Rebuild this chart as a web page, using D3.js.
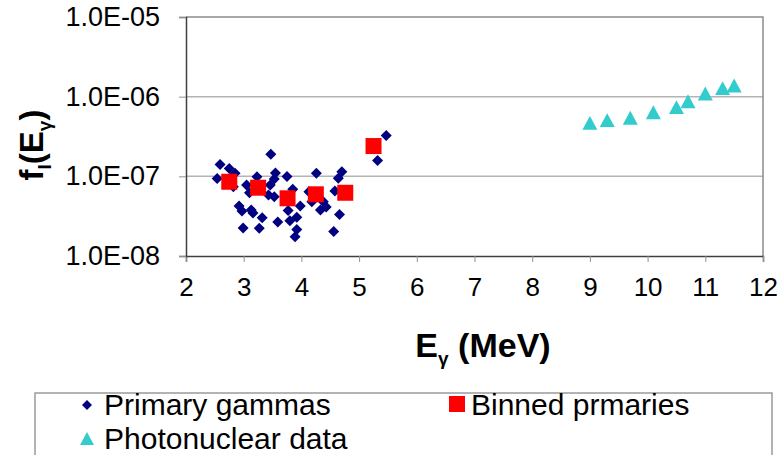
<!DOCTYPE html>
<html>
<head>
<meta charset="utf-8">
<script src="https://cdn.jsdelivr.net/npm/d3@7"></script>
<style>
  html, body { margin: 0; padding: 0; background: #fff; }
  svg { display: block; font-family: "Liberation Sans", Arial, sans-serif; }
</style>
</head>
<body>
<svg id="chart" width="781" height="455"></svg>
<script>
// Primary gamma strengths: [E (MeV), f(E)]
const primaryE = [2.59, 2.54, 2.75, 2.85, 2.82, 2.92, 2.97, 2.99, 3.13, 3.16, 3.05, 3.10, 3.23, 3.27, 3.32,
                  3.47, 3.55, 3.53, 3.46, 3.43, 3.53, 3.59, 3.75, 3.77, 3.85, 3.80, 3.92, 3.92, 3.89, 3.98,
                  4.26, 4.13, 4.18, 4.38, 4.43, 4.33, 4.58, 4.66, 4.56, 4.70, 4.64, 5.32, 5.47];
const primaryF = [1.41e-7, 9.4e-8, 1.25e-7, 1.09e-7, 7.4e-8, 4.24e-8, 3.67e-8, 2.25e-8, 3.78e-8, 3.46e-8, 7.78e-8, 6.22e-8, 9.9e-8, 2.23e-8, 3.03e-8,
                  1.90e-7, 1.10e-7, 9.25e-8, 7.78e-8, 5.83e-8, 5.55e-8, 2.67e-8, 9.95e-8, 3.72e-8, 6.87e-8, 2.77e-8, 3.06e-8, 2.15e-8, 1.75e-8, 4.24e-8,
                  1.09e-7, 6.41e-8, 4.80e-8, 4.80e-8, 4.12e-8, 3.78e-8, 6.54e-8, 3.32e-8, 2.03e-8, 1.14e-7, 9.44e-8, 1.58e-7, 3.25e-7];

// Binned primaries
const binnedE = [2.75, 3.25, 3.76, 4.25, 4.76, 5.25];
const binnedF = [8.55e-8, 7.2e-8, 5.3e-8, 5.95e-8, 6.22e-8, 2.40e-7];

// Photonuclear data
const photoE = [9.0, 9.3, 9.7, 10.1, 10.5, 10.7, 11.0, 11.3, 11.5];
const photoF = [4.62e-7, 4.99e-7, 5.34e-7, 6.28e-7, 7.26e-7, 8.63e-7, 1.08e-6, 1.26e-6, 1.36e-6];

// Axis ticks
const xTicks = [2, 3, 4, 5, 6, 7, 8, 9, 10, 11, 12];
const yTicks = [1e-8, 1e-7, 1e-6, 1e-5];
const yTickLabels = ["1.0E-08", "1.0E-07", "1.0E-06", "1.0E-05"];

const svg = d3.select("#chart");
const plot = { left: 186, right: 763, top: 17, bottom: 256 };

const x = d3.scaleLinear().domain([2, 12]).range([plot.left, plot.right]);
const y = d3.scaleLog().domain([1e-8, 1e-5]).range([plot.bottom, plot.top]);

// gridlines at interior decades
svg.append("g").selectAll("line")
  .data(yTicks.slice(1, -1))
  .join("line")
  .attr("x1", plot.left).attr("x2", plot.right)
  .attr("y1", d => y(d)).attr("y2", d => y(d))
  .attr("stroke", "#b4b4b4").attr("stroke-width", 1.5);

// plot frame (top & right)
svg.append("path")
  .attr("d", `M${plot.left},${plot.top}H${plot.right}V${plot.bottom}`)
  .attr("fill", "none").attr("stroke", "#8c8c8c").attr("stroke-width", 1.5);

// x axis
const xAxis = svg.append("g")
  .attr("transform", `translate(0,${plot.bottom})`)
  .call(d3.axisBottom(x).tickValues(xTicks).tickSize(6).tickPadding(16).tickFormat(d3.format("d")));
xAxis.select(".domain").attr("stroke", "#404040").attr("stroke-width", 1.5);
xAxis.selectAll(".tick line").attr("stroke", "#909090");
xAxis.selectAll(".tick text").attr("font-size", 26).attr("fill", "#000")
  .attr("font-family", "Liberation Sans, Arial, sans-serif");

// y axis
const yAxis = svg.append("g")
  .attr("transform", `translate(${plot.left},0)`)
  .call(d3.axisLeft(y).tickValues(yTicks).tickSize(7).tickPadding(19)
    .tickFormat((d, i) => yTickLabels[i]));
yAxis.select(".domain").attr("stroke", "#404040").attr("stroke-width", 1.5);
yAxis.selectAll(".tick line").attr("stroke", "#909090");
yAxis.selectAll(".tick text").attr("font-size", 27).attr("fill", "#000")
  .attr("font-family", "Liberation Sans, Arial, sans-serif");

// axis titles
const xTitle = svg.append("text")
  .attr("x", 483).attr("y", 357)
  .attr("text-anchor", "middle")
  .attr("font-size", 34).attr("font-weight", "bold");
xTitle.append("tspan").text("E");
xTitle.append("tspan").attr("font-size", 19).attr("dy", 8).text("γ");
xTitle.append("tspan").attr("dy", -8).text(" (MeV)");

const yTitle = svg.append("text")
  .attr("transform", "translate(43,145) rotate(-90)")
  .attr("text-anchor", "middle")
  .attr("font-size", 33).attr("font-weight", "bold");
yTitle.append("tspan").text("f");
yTitle.append("tspan").attr("font-size", 19).attr("dy", 8).text("l");
yTitle.append("tspan").attr("dy", -8).text("(E");
yTitle.append("tspan").attr("font-size", 19).attr("dy", 8).text("γ");
yTitle.append("tspan").attr("dy", -8).text(")");

// marker shapes
const diamond = s => `M0,${-s}L${s},0L0,${s}L${-s},0Z`;
const square = s => `M${-s},${-s}H${s}V${s}H${-s}Z`;
const triangle = s => `M0,${-s}L${s},${s * 0.85}H${-s}Z`;

const navy = "#000080", red = "#ff0000", cyan = "#33cccc";

svg.append("g").selectAll("path")
  .data(d3.zip(primaryE, primaryF))
  .join("path")
  .attr("transform", d => `translate(${x(d[0])},${y(d[1])})`)
  .attr("d", diamond(5.5)).attr("fill", navy);

svg.append("g").selectAll("path")
  .data(d3.zip(binnedE, binnedF))
  .join("path")
  .attr("transform", d => `translate(${x(d[0])},${y(d[1])})`)
  .attr("d", square(8)).attr("fill", red);

svg.append("g").selectAll("path")
  .data(d3.zip(photoE, photoF))
  .join("path")
  .attr("transform", d => `translate(${x(d[0])},${y(d[1])})`)
  .attr("d", triangle(7.5)).attr("fill", cyan);

// legend
const legend = svg.append("g");
legend.append("rect")
  .attr("x", 35).attr("y", 393).attr("width", 737).attr("height", 80)
  .attr("fill", "#fff").attr("stroke", "#9a9a9a").attr("stroke-width", 1.5);

const legendItems = [
  { label: "Primary gammas", shape: diamond(5), color: navy, mx: 87, my: 405, tx: 104, ty: 414.5 },
  { label: "Binned prmaries", shape: square(8), color: red, mx: 457, my: 404, tx: 471, ty: 414.5 },
  { label: "Photonuclear data", shape: triangle(7), color: cyan, mx: 87, my: 439, tx: 104, ty: 448.5 }
];
legendItems.forEach(it => {
  legend.append("path").attr("transform", `translate(${it.mx},${it.my})`)
    .attr("d", it.shape).attr("fill", it.color);
  legend.append("text").attr("x", it.tx).attr("y", it.ty)
    .attr("font-size", 30).attr("fill", "#000").text(it.label);
});
</script>
</body>
</html>
